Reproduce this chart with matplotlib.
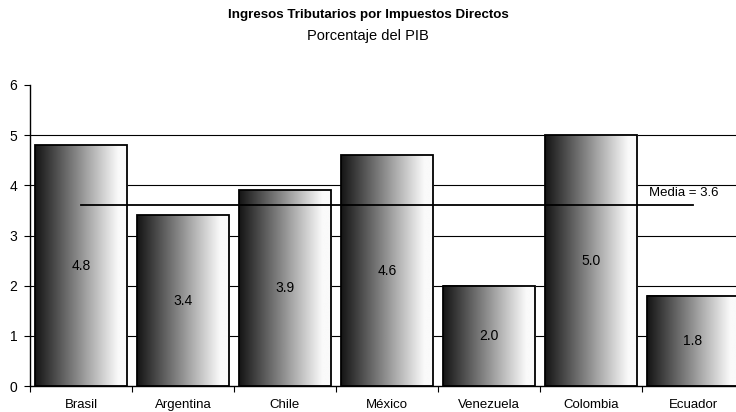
import numpy as np
import matplotlib
matplotlib.use("Agg")
import matplotlib.pyplot as plt
from matplotlib.patches import Rectangle

plt.rcParams['font.family'] = ['Liberation Sans', 'DejaVu Sans']

countries = ["Brasil", "Argentina", "Chile", "México", "Venezuela", "Colombia", "Ecuador"]
values = [4.8, 3.4, 3.9, 4.6, 2.0, 5.0, 1.8]
mean_value = 3.6
mean_label = "Media = 3.6"

fig = plt.figure(figsize=(7.36, 4.12), dpi=100)
ax = fig.add_axes([30 / 736, (412 - 386) / 412, 714 / 736, 301 / 412])

ax.set_xlim(0, len(countries))
ax.set_ylim(0, 6)

# horizontal gridlines behind the bars
for y in range(1, 6):
    ax.axhline(y, color="black", lw=0.8, zorder=0)

# horizontal dark-to-light gradient used to fill each bar
xs = np.linspace(0, 1, 256)
shade = np.clip(0.08 + 1.0 * xs, 0, 0.98)
grad = shade[np.newaxis, :]

bar_w = 0.91
for i, v in enumerate(values):
    x0 = i + (1 - bar_w) / 2
    ax.imshow(grad, cmap="gray", vmin=0, vmax=1, aspect="auto",
              extent=(x0, x0 + bar_w, 0, v), interpolation="bilinear", zorder=2)
    ax.add_patch(Rectangle((x0, 0), bar_w, v, fill=False, edgecolor="black",
                           lw=1.3, zorder=3))
    ax.text(i + 0.5, v / 2, f"{v:.1f}", ha="center", va="center",
            fontsize=10, zorder=5)

# average line from the first to the last category centre
ax.plot([0.5, len(countries) - 0.5], [mean_value, mean_value],
        color="black", lw=1.3, zorder=4)
ax.text(len(countries) - 0.93, mean_value + 0.12, mean_label,
        ha="left", va="bottom", fontsize=9.5, zorder=5)

ax.set_xticks(np.arange(0, len(countries) + 1))
ax.set_xticklabels([])
ax.set_xticks(np.arange(len(countries)) + 0.5, minor=True)
ax.set_xticklabels(countries, minor=True, fontsize=9.5)
ax.tick_params(axis="x", which="major", length=4, width=0.8, direction="out")
ax.tick_params(axis="x", which="minor", length=0, pad=9.5)

ax.set_yticks(range(0, 7))
ax.tick_params(axis="y", length=4, width=0.8, direction="out", labelsize=10, pad=5)

for side in ("top", "right"):
    ax.spines[side].set_visible(False)
for side in ("left", "bottom"):
    ax.spines[side].set_linewidth(1.0)

fig.text(0.5, 1 - 15 / 412, "Ingresos Tributarios por Impuestos Directos",
         ha="center", va="center", fontsize=9.6, fontweight="bold")
fig.text(0.5, 1 - 36 / 412, "Porcentaje del PIB",
         ha="center", va="center", fontsize=10.5)

fig.savefig("out.png", dpi=100)
